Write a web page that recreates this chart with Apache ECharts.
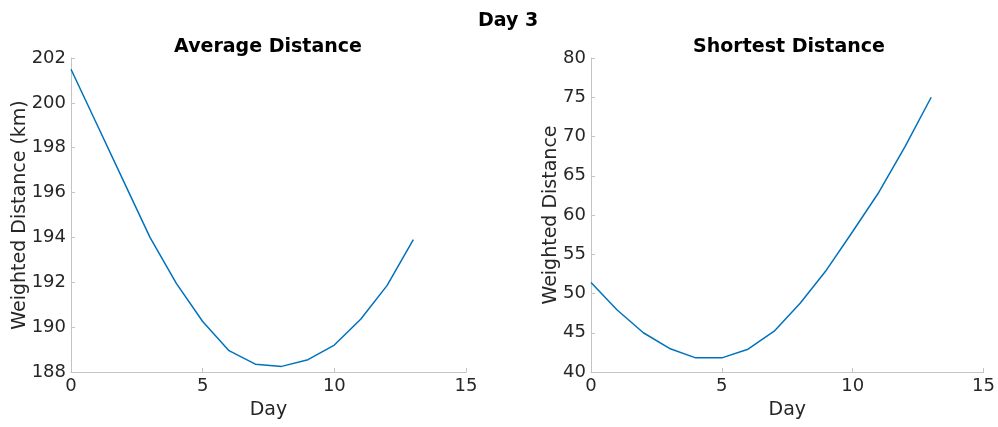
<!DOCTYPE html>
<html><head><meta charset="utf-8">
<script src="https://cdn.jsdelivr.net/npm/echarts@6/dist/echarts.min.js"></script>
<style>html,body{margin:0;padding:0;background:#fff}#c{width:998px;height:427px}</style>
</head><body><div id="c"></div>
<script>
const days = [0,1,2,3,4,5,6,7,8,9,10,11,12,13];
const avgDistance = [201.5,199.0,196.5,194.0,191.95,190.25,188.95,188.35,188.25,188.55,189.2,190.35,191.85,193.9];
const shortestDistance = [51.4,47.9,45.0,43.0,41.8,41.8,42.9,45.2,48.8,53.0,57.9,62.9,68.7,75.0];
const xTicks = [0,5,10,15];

const font = 'DejaVu Sans';
const axisGray = '#c4c4c4';
const txt = '#262626';
function xAxis(idx){
  return {type:'value', gridIndex:idx, min:0, max:15, interval:5,
    name:'Day', nameLocation:'middle', nameGap:29, nameMoveOverlap:false,
    nameTextStyle:{fontFamily:font,fontSize:19,color:txt},
    axisLine:{lineStyle:{color:axisGray,width:1}},
    axisTick:{inside:true,length:4,lineStyle:{color:axisGray}},
    axisLabel:{fontFamily:font,fontSize:18,color:txt,margin:5},
    splitLine:{show:false}};
}
function yAxis(idx,min,max,interval,name,gap){
  return {type:'value', gridIndex:idx, min:min, max:max, interval:interval,
    name:name, nameLocation:'middle', nameGap:gap, nameMoveOverlap:false,
    nameTextStyle:{fontFamily:font,fontSize:19,color:txt},
    axisLine:{show:true,lineStyle:{color:axisGray,width:1}},
    axisTick:{show:true,inside:true,length:4,lineStyle:{color:axisGray}},
    axisLabel:{fontFamily:font,fontSize:18,color:txt,margin:5},
    splitLine:{show:false}};
}
const chart = echarts.init(document.getElementById('c'),null,{renderer:'canvas'});
chart.setOption({
  animation:false,
  title:[
    {text:'Day 3',left:503,top:7,textAlign:'center',textStyle:{fontFamily:font,fontSize:19,fontWeight:'bold',color:'#000'}},
    {text:'Average Distance',left:263,top:33,textAlign:'center',textStyle:{fontFamily:font,fontSize:19,fontWeight:'bold',color:'#000'}},
    {text:'Shortest Distance',left:784,top:33,textAlign:'center',textStyle:{fontFamily:font,fontSize:19,fontWeight:'bold',color:'#000'}}
  ],
  grid:[
    {left:71,right:532,top:58,bottom:55},
    {left:591,right:12,top:58,bottom:55}
  ],
  xAxis:[xAxis(0),xAxis(1)],
  yAxis:[yAxis(0,188,202,2,'Weighted Distance (km)',41),yAxis(1,40,80,5,'Weighted Distance',30)],
  series:[
    {type:'line',xAxisIndex:0,yAxisIndex:0,data:days.map((d,i)=>[d,avgDistance[i]]),showSymbol:false,lineStyle:{color:'#0072BD',width:1.5}},
    {type:'line',xAxisIndex:1,yAxisIndex:1,data:days.map((d,i)=>[d,shortestDistance[i]]),showSymbol:false,lineStyle:{color:'#0072BD',width:1.5}}
  ]
});
</script></body></html>
